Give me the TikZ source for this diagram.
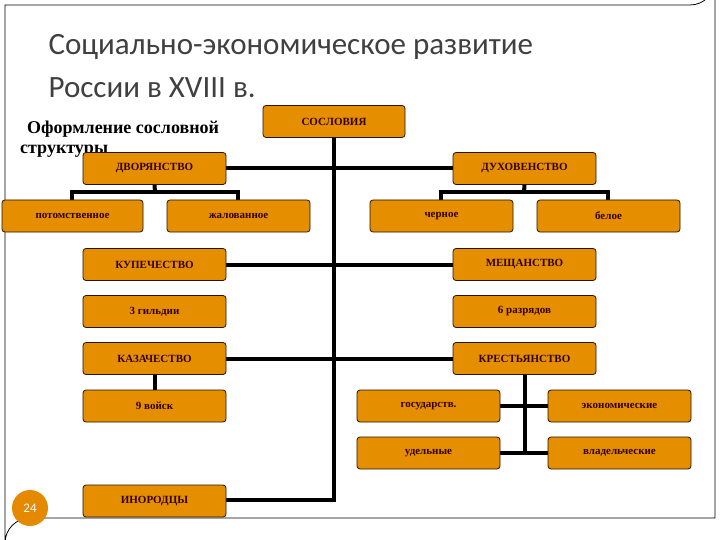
\documentclass[tikz,border=0pt]{standalone}
\usepackage{fontspec}
\usetikzlibrary{backgrounds}
\setmainfont{Liberation Serif}
\newfontfamily\titlef{Carlito}
\begin{document}
\begin{tikzpicture}[x=1pt,y=-1pt,
  box/.style={draw=black!85!orange,line width=0.8pt,fill=orange!75!yellow!90!black,rounded corners=3pt,minimum width=143pt,minimum height=32pt,inner sep=0pt,font=\fontsize{11}{12}\selectfont\bfseries,text=black!80!red},
  wire/.style={line width=4pt}]
\useasboundingbox (0,0) rectangle (720,540);
\begin{scope}[on background layer]
\fill[white] (0,0) rectangle (720,540);
\end{scope}
\draw[line width=0.8pt] (5,5) -- (690,5) arc[start angle=90,end angle=0,radius=25] -- (715,518) -- (30,518) arc[start angle=270,end angle=180,radius=25] -- cycle;
\node[anchor=base west,font=\titlef\fontsize{31}{36}\selectfont,text=black!75] (t1) at (45,55) {Социально-экономическое развитие};
\node[anchor=base west,font=\titlef\fontsize{31}{36}\selectfont,text=black!75] (t2) at (45,98) {России в XVIII в.};
\node[anchor=base west,font=\fontsize{18}{20}\selectfont\bfseries,inner sep=0pt] (s1) at (27,134) {Оформление сословной};
\node[anchor=base west,font=\fontsize{18}{20}\selectfont\bfseries,inner sep=0pt] (s2) at (20,154) {структуры};
\coordinate (sp) at (334,500);
\coordinate (b1) at (155,192);
\coordinate (b1l) at (72,192);
\coordinate (b1r) at (238,192);
\coordinate (b2) at (524,192);
\coordinate (b2l) at (441,192);
\coordinate (b2r) at (608,192);
\node[box,minimum width=142pt] (sos) at (334,121.5) {СОСЛОВИЯ};
\node[box] (dvo) at (154.5,168.5) {ДВОРЯНСТВО};
\node[box] (duh) at (524.5,168.5) {ДУХОВЕНСТВО};
\node[box,minimum width=141pt] (pot) at (72.5,216) {потомственное};
\node[box] (zha) at (238.5,216) {жалованное};
\node[box] (che) at (441.5,216) {черное};
\node[box] (bel) at (608.5,216) {белое};
\node[box] (kup) at (154.5,264.5) {КУПЕЧЕСТВО};
\node[box] (mes) at (524.5,264.5) {МЕЩАНСТВО};
\node[box] (gil) at (154.5,311.5) {3 гильдии};
\node[box] (raz) at (524.5,311.5) {6 разрядов};
\node[box] (kaz) at (154.5,358.5) {КАЗАЧЕСТВО};
\node[box] (kre) at (524.5,358.5) {КРЕСТЬЯНСТВО};
\node[box] (voi) at (154.5,406) {9 войск};
\node[box] (gos) at (428.5,406) {государств.};
\node[box] (eko) at (619.5,406) {экономические};
\node[box] (ude) at (428.5,453) {удельные};
\node[box] (vla) at (619.5,453) {владельческие};
\node[box] (ino) at (154.5,501) {ИНОРОДЦЫ};
\node[circle,fill=orange!80!yellow!90!black,minimum size=36pt,inner sep=0pt,text=white,font=\titlef\fontsize{13}{14}\selectfont] (pg) at (30,508) {24};
\begin{scope}[on background layer]
\draw[wire] (sos.south) -- (sos.south |- sp) -- (ino.east |- sp);
\draw[wire] (dvo.east) -- (duh.west);
\draw[wire] (kup.east) -- (mes.west);
\draw[wire] (kaz.east) -- (kre.west);
\draw[wire] (dvo.south) -- (b1);
\draw[wire] (pot.north -| b1l) |- (b1r) -- (zha.north -| b1r);
\draw[wire] (duh.south) -- (b2);
\draw[wire] (che.north -| b2l) |- (b2r) -- (bel.north -| b2r);
\draw[wire] (kaz.south) -- (voi.north);
\draw[wire] (kre.south) -- (kre.south |- ude.east);
\draw[wire] (gos.east) -- (eko.west);
\draw[wire] (ude.east) -- (vla.west);
\end{scope}
\end{tikzpicture}
\end{document}
